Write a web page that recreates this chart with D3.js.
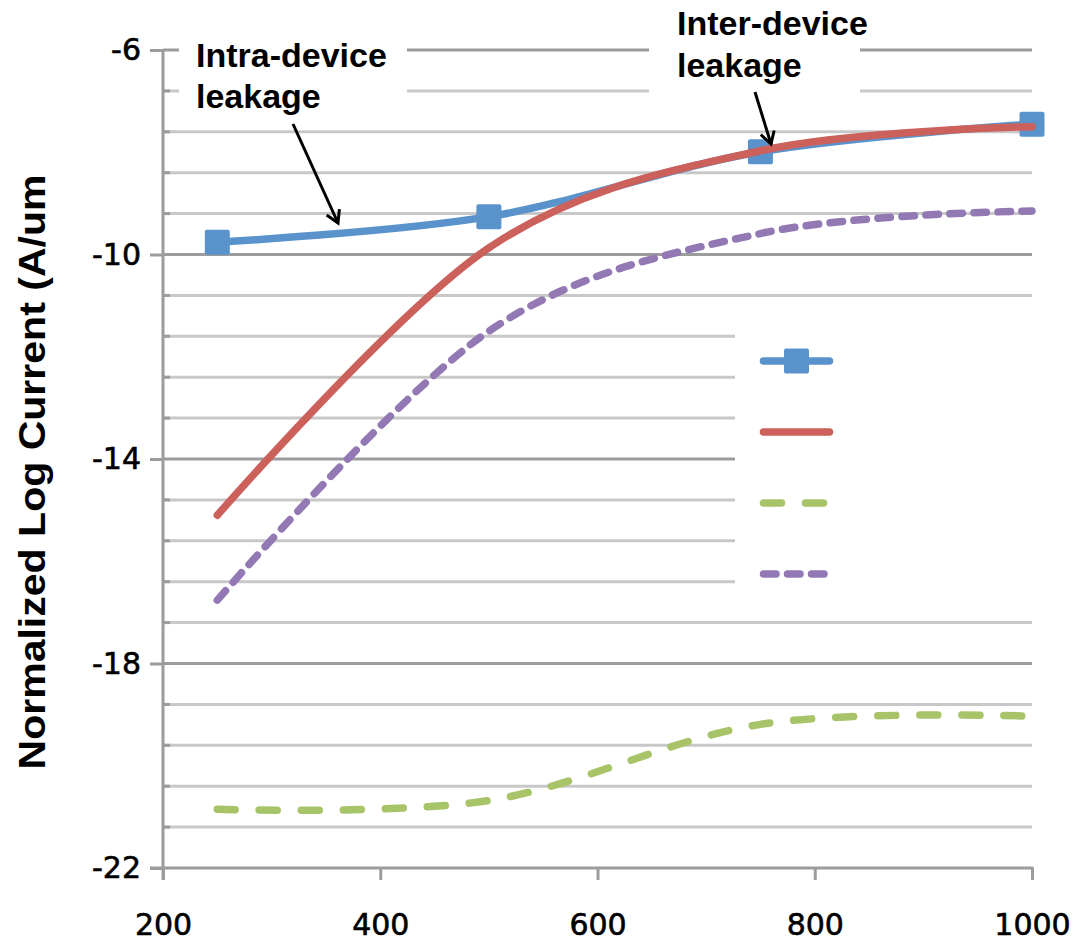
<!DOCTYPE html>
<html>
<head>
<meta charset="utf-8">
<script src="https://cdn.jsdelivr.net/npm/d3@7"></script>
<style>
  html, body { margin: 0; padding: 0; background: #ffffff; }
  svg { display: block; }
</style>
</head>
<body>
<svg id="chart" width="1074" height="945"></svg>
<script>
// Channel length sweep (x) and the four leakage curves (log10 of current, A/um)
const xValues = [250, 500, 750, 1000];
const intraSeries = [-9.76, -9.26, -7.99, -7.45];   // blue, square markers
const interSeries = [-15.1, -9.87, -7.97, -7.5];    // red, solid
const greenSeries = [-20.85, -20.68, -19.19, -19.03]; // green, long dash
const purpleSeries = [-16.76, -11.5, -9.59, -9.15];  // purple, short dash

const xTicks = [200, 400, 600, 800, 1000];
const yMajorTicks = [-22, -18, -14, -10, -6];
const yMinorStep = 0.8;
const yAxisTitle = "Normalized Log Current (A/um";
const annotations = [
  { lines: ["Intra-device", "leakage"] },
  { lines: ["Inter-device", "leakage"] }
];

const svg = d3.select("#chart");
const x = d3.scaleLinear().domain([200, 1000]).range([163, 1032]);
const y = d3.scaleLinear().domain([-22, -6]).range([868, 50]);

const axisColor = "#9c9c9c";
const minorGridColor = "#c8c8c8";
const tickFont = "'DejaVu Sans', Verdana, sans-serif";
const lineWidth = 7.5;

// minor tick values every 0.8 between the majors
const yMinor = d3.range(0, 21).map(i => +(-22 + i * yMinorStep).toFixed(1))
  .filter(v => !yMajorTicks.includes(v));

// gridlines
const grid = svg.append("g");
grid.selectAll("line.minor").data(yMinor).join("line")
  .attr("x1", x(200)).attr("x2", x(1000))
  .attr("y1", d => y(d)).attr("y2", d => y(d))
  .attr("stroke", minorGridColor).attr("stroke-width", 3);
grid.selectAll("line.major").data(yMajorTicks.filter(d => d !== -22)).join("line")
  .attr("x1", x(200)).attr("x2", x(1000))
  .attr("y1", d => y(d)).attr("y2", d => y(d))
  .attr("stroke", axisColor).attr("stroke-width", 3);

// white boxes behind the annotation text and legend
svg.append("rect").attr("x", 179).attr("y", 28).attr("width", 228).attr("height", 88).attr("fill", "#fff");
svg.append("rect").attr("x", 649).attr("y", 0).attr("width", 211).attr("height", 104).attr("fill", "#fff");
svg.append("rect").attr("x", 735).attr("y", 310).attr("width", 320).attr("height", 295).attr("fill", "#fff");

// y axis
const yAxis = d3.axisLeft(y).tickValues(yMajorTicks).tickSize(13).tickPadding(9)
  .tickFormat(d => String(d));
const gy = svg.append("g").attr("transform", `translate(${x(200)},0)`).call(yAxis);
gy.select(".domain").remove();
gy.selectAll(".tick line").attr("stroke", axisColor).attr("stroke-width", 3);
gy.selectAll(".tick text").attr("fill", "#000")
  .attr("stroke", "#000").attr("stroke-width", 0.6)
  .style("font-family", tickFont).style("font-size", "30px");
svg.append("g").selectAll("line").data(yMinor).join("line")
  .attr("x1", x(200)).attr("x2", x(200) + 7)
  .attr("y1", d => y(d)).attr("y2", d => y(d))
  .attr("stroke", axisColor).attr("stroke-width", 3);

// x axis
const xAxis = d3.axisBottom(x).tickValues(xTicks).tickSize(12).tickPadding(34)
  .tickFormat(d => String(d));
const gx = svg.append("g").attr("transform", `translate(0,${y(-22)})`).call(xAxis);
gx.select(".domain").remove();
gx.selectAll(".tick line").attr("stroke", axisColor).attr("stroke-width", 3);
gx.selectAll(".tick text").attr("fill", "#000")
  .attr("stroke", "#000").attr("stroke-width", 0.6)
  .style("font-family", tickFont).style("font-size", "30px");

// axis lines
svg.append("line").attr("x1", x(200)).attr("x2", x(200)).attr("y1", y(-6) - 1).attr("y2", y(-22) + 12)
  .attr("stroke", axisColor).attr("stroke-width", 3);
svg.append("line").attr("x1", x(200) - 13).attr("x2", x(1000) + 1.5).attr("y1", y(-22)).attr("y2", y(-22))
  .attr("stroke", axisColor).attr("stroke-width", 3);

// y axis title
svg.append("text")
  .attr("transform", `translate(45,${472}) rotate(-90)`)
  .attr("text-anchor", "middle")
  .attr("textLength", 595).attr("lengthAdjust", "spacingAndGlyphs")
  .style("font-family", "'Liberation Sans', Arial, sans-serif")
  .style("font-weight", "bold").style("font-size", "36px")
  .attr("fill", "#000")
  .text(yAxisTitle);

// series, drawn bottom to top
const series = [
  { values: greenSeries, color: "#a8c468", dash: "18,24", marker: false },
  { values: purpleSeries, color: "#9379b4", dash: "12.5,11.5", marker: false },
  { values: intraSeries, color: "#5a93cb", dash: null, marker: true },
  { values: interSeries, color: "#cc605a", dash: null, marker: false }
];
const line = d3.line()
  .x((d, i) => x(xValues[i]))
  .y(d => y(d))
  .curve(d3.curveCardinal.tension(0));

const plot = svg.append("g");
series.forEach(s => {
  plot.append("path")
    .attr("d", line(s.values))
    .attr("fill", "none")
    .attr("stroke", s.color)
    .attr("stroke-width", lineWidth)
    .attr("stroke-linecap", "round")
    .attr("stroke-linejoin", "round")
    .attr("stroke-dasharray", s.dash);
  if (s.marker) {
    plot.append("g").selectAll("rect").data(s.values).join("rect")
      .attr("x", (d, i) => x(xValues[i]) - 12.5)
      .attr("y", d => y(d) - 12.5)
      .attr("width", 25).attr("height", 25)
      .attr("rx", 2)
      .attr("fill", s.color);
  }
});

// legend (symbols only)
const legendOrder = [series[2], series[3], series[0], series[1]];
const legendY = [361, 432, 503, 574];
const legend = svg.append("g");
legendOrder.forEach((s, i) => {
  legend.append("line")
    .attr("x1", 763.5).attr("x2", 829.5)
    .attr("y1", legendY[i]).attr("y2", legendY[i])
    .attr("stroke", s.color).attr("stroke-width", lineWidth)
    .attr("stroke-linecap", "round")
    .attr("stroke-dasharray", s.dash);
  if (s.marker) {
    legend.append("rect")
      .attr("x", 796.5 - 12.5).attr("y", legendY[i] - 12.5)
      .attr("width", 25).attr("height", 25).attr("rx", 2)
      .attr("fill", s.color);
  }
});

// annotations with arrows
const defs = svg.append("defs");
defs.append("marker")
  .attr("id", "arrowhead")
  .attr("markerUnits", "userSpaceOnUse")
  .attr("markerWidth", 20).attr("markerHeight", 20)
  .attr("refX", 15).attr("refY", 9)
  .attr("orient", "auto")
  .append("path")
  .attr("d", "M3,2 L15,9 L3,16")
  .attr("fill", "none").attr("stroke", "#000").attr("stroke-width", 3)
  .attr("stroke-linejoin", "miter");

const annoPos = [
  { x: 196, baselines: [67, 108], arrow: [293, 124, 338, 223] },
  { x: 677, baselines: [35, 77], arrow: [755, 92, 771, 144] }
];
annotations.forEach((a, i) => {
  const p = annoPos[i];
  const t = svg.append("text")
    .style("font-family", "'Liberation Sans', Arial, sans-serif")
    .style("font-weight", "bold").style("font-size", "34px")
    .attr("fill", "#000");
  a.lines.forEach((ln, j) => {
    t.append("tspan").attr("x", p.x).attr("y", p.baselines[j]).text(ln);
  });
  svg.append("line")
    .attr("x1", p.arrow[0]).attr("y1", p.arrow[1])
    .attr("x2", p.arrow[2]).attr("y2", p.arrow[3])
    .attr("stroke", "#000").attr("stroke-width", 3)
    .attr("marker-end", "url(#arrowhead)");
});
</script>
</body>
</html>
